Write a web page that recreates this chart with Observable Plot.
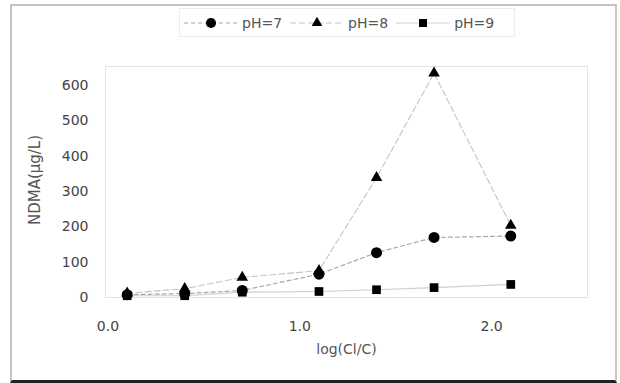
<!DOCTYPE html>
<html>
<head>
<meta charset="utf-8">
<script src="https://cdn.jsdelivr.net/npm/d3@7"></script>
<script src="https://cdn.jsdelivr.net/npm/@observablehq/plot@0.6"></script>
<style>
  html, body { margin: 0; padding: 0; background: #fff; }
  #wrap { position: relative; width: 620px; height: 383px; overflow: hidden; font-family: "DejaVu Sans", sans-serif; }
  #frame { position: absolute; left: 10px; top: 4px; width: 603px; height: 374px;
           border-left: 2px solid #c4c4c4; border-top: 2px solid #c4c4c4;
           border-right: 2px solid #c8c8c8; border-bottom: 3px solid #222; box-sizing: content-box; pointer-events: none; }
  #legend { position: absolute; left: 179px; top: 8px; height: 29px; width: 336px;
            border: 1px solid #ececec; box-sizing: border-box; display: flex; align-items: center; }
  .item { display: flex; align-items: center; margin-left: 4px; margin-right: 0px; }
  .item span { font-size: 14px; color: #555; margin-left: 4px; margin-right: 4px; }
  #plot { position: absolute; left: 0; top: 0; }
</style>
</head>
<body>
<div id="wrap">
  <div id="plot"></div>
  <div id="legend"></div>
  <div id="frame"></div>
</div>
<script>
// Data
const xValues = [0.1, 0.4, 0.7, 1.1, 1.4, 1.7, 2.1];
const pH7 = [8, 11, 20, 66, 127, 170, 174];
const pH8 = [12, 25, 57, 76, 339, 635, 204];
const pH9 = [5, 5, 15, 17, 22, 28, 37];
const seriesNames = ["pH=7", "pH=8", "pH=9"];
const xTicks = [0, 1, 2];
const yTicks = [0, 100, 200, 300, 400, 500, 600];

const seriesValues = [pH7, pH8, pH9];
const styles = {
  "pH=7": {symbol: "circle", r: 5.5, stroke: "#a8a8a8", dash: "4,3", lw: 1.2},
  "pH=8": {symbol: "triangle", r: 4.3, stroke: "#c4c4c4", dash: "6,3", lw: 1.1},
  "pH=9": {symbol: "square", r: 4.9, stroke: "#cfcfcf", dash: null, lw: 1.2}
};

const rows = [];
seriesNames.forEach((name, i) => {
  xValues.forEach((x, j) => rows.push({series: name, x, y: seriesValues[i][j]}));
});

const marks = [
  Plot.frame({stroke: "#e3e3e3"}),
  Plot.axisY({ticks: yTicks, tickSize: 0, tickPadding: 17, label: null, fill: "#444"}),
  Plot.axisX({ticks: xTicks, tickSize: 0, tickPadding: 24, tickFormat: d3.format(".1f"), label: null, fill: "#444"}),
  Plot.text(["NDMA(μg/L)"], {frameAnchor: "left", textAnchor: "middle", dx: -70, dy: -2, rotate: -90, fill: "#555", fontSize: 15, style: "letter-spacing:3px"}),
  Plot.text(["log(Cl/C)"], {frameAnchor: "bottom", textAnchor: "middle", dy: 56, fill: "#555", fontSize: 14, style: "letter-spacing:0.5px"})
];
// lines
for (const name of seriesNames) {
  const s = styles[name];
  marks.push(Plot.line(rows.filter(d => d.series === name), {
    x: "x", y: "y", stroke: s.stroke, strokeWidth: s.lw, strokeDasharray: s.dash
  }));
}
// points: squares, triangles, circles (circles on top)
for (const name of ["pH=9", "pH=8", "pH=7"]) {
  const s = styles[name];
  marks.push(Plot.dot(rows.filter(d => d.series === name), {
    x: "x", y: "y", symbol: s.symbol, r: s.r, fill: "#000", stroke: "none"
  }));
}

const chart = Plot.plot({
  width: 620,
  height: 383,
  marginLeft: 105,
  marginRight: 33,
  marginTop: 66,
  marginBottom: 86,
  style: {fontFamily: "DejaVu Sans, sans-serif", fontSize: "14px", background: "transparent", color: "#444"},
  x: {domain: [-0.013, 2.5]},
  y: {domain: [0, 654]},
  marks
});
document.getElementById("plot").appendChild(chart);

// legend
const legend = document.getElementById("legend");
for (const name of seriesNames) {
  const s = styles[name];
  const item = document.createElement("div");
  item.className = "item";
  const svg = d3.create("svg").attr("width", 54).attr("height", 14);
  svg.append("line").attr("x1", 0).attr("x2", 54).attr("y1", 7).attr("y2", 7)
    .attr("stroke", s.stroke).attr("stroke-width", s.lw).attr("stroke-dasharray", s.dash);
  const sym = {circle: d3.symbolCircle, triangle: d3.symbolTriangle, square: d3.symbolSquare}[s.symbol];
  svg.append("path").attr("transform", "translate(27,7)")
    .attr("d", d3.symbol(sym, Math.PI * s.r * s.r * 0.85)()).attr("fill", "#000");
  item.appendChild(svg.node());
  const t = document.createElement("span");
  t.textContent = name;
  item.appendChild(t);
  legend.appendChild(item);
}
</script>
</body>
</html>
